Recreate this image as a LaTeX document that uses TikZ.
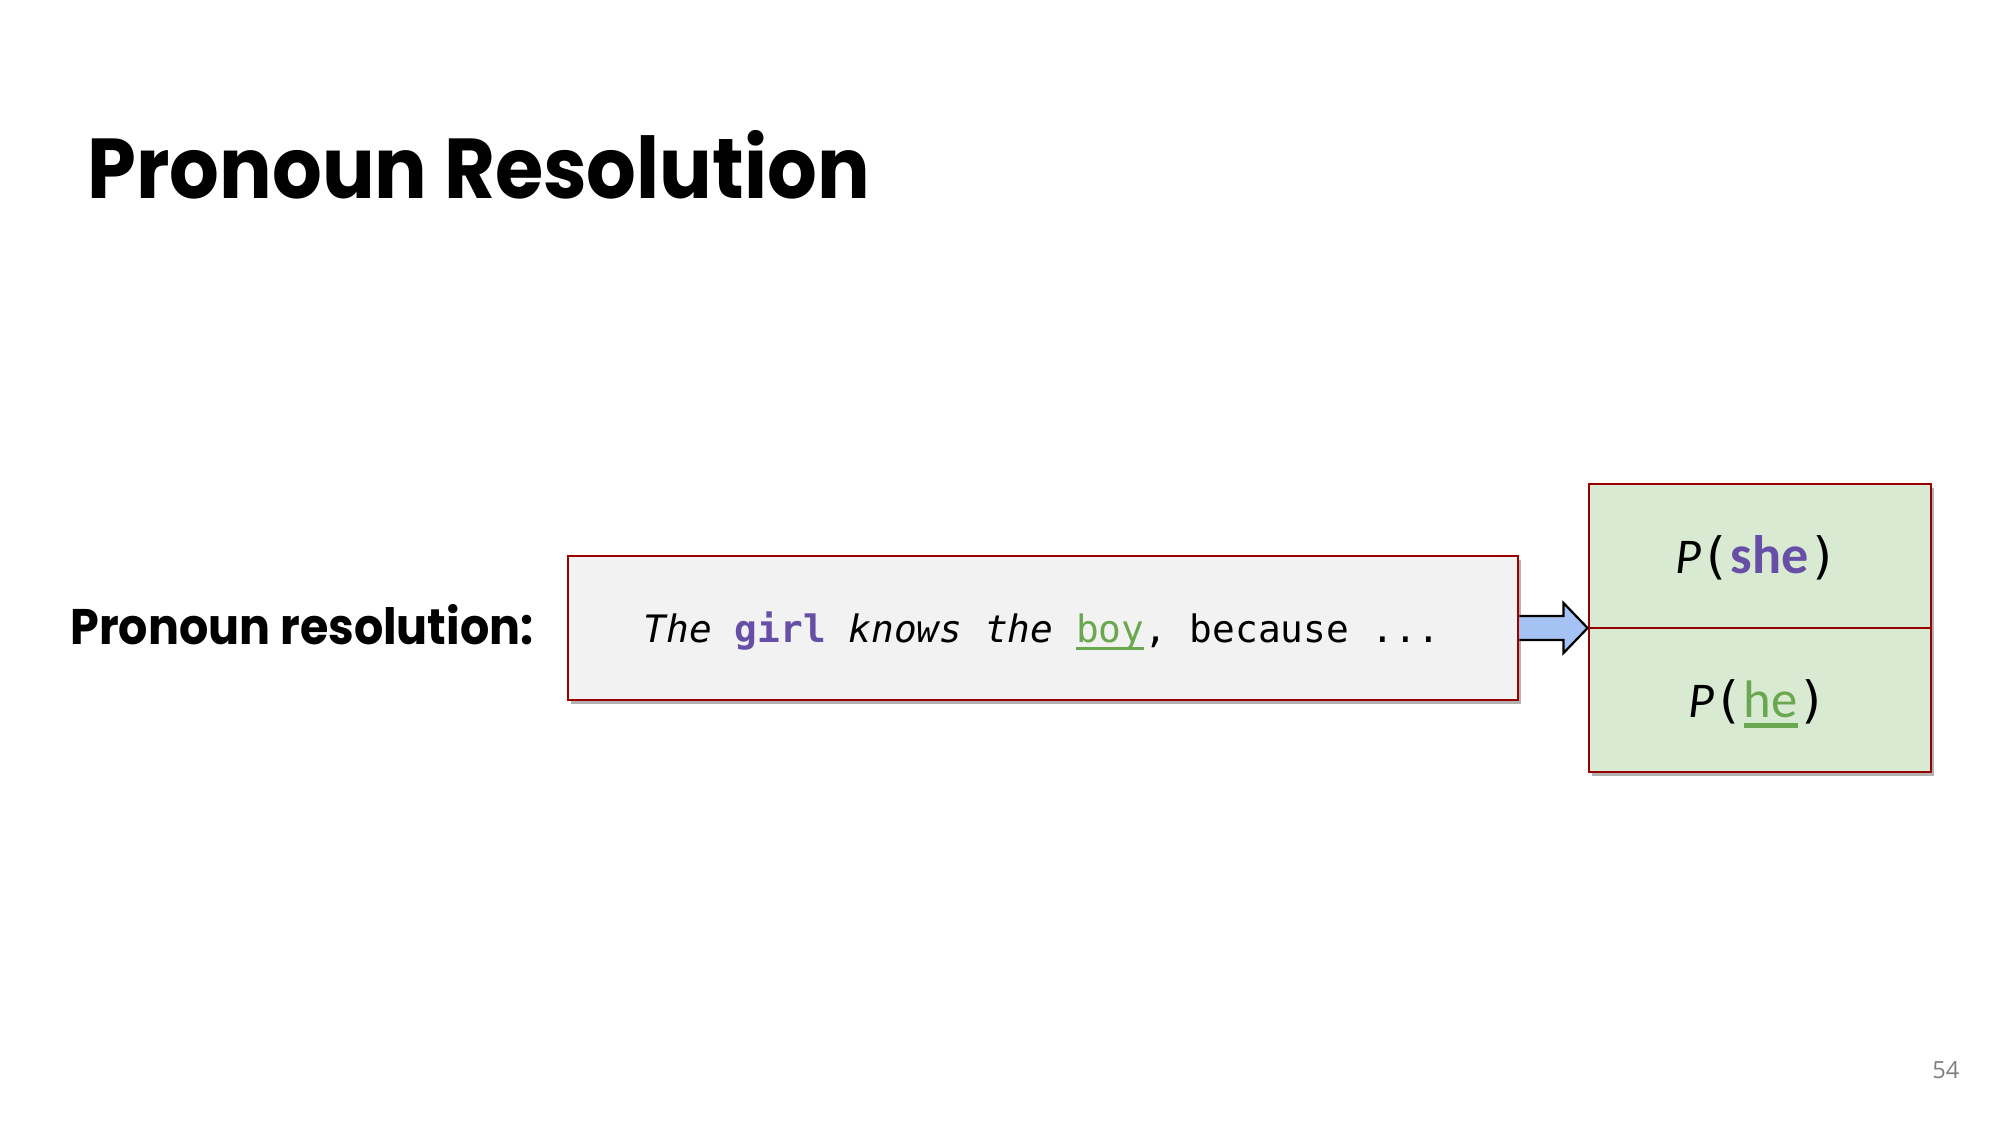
\documentclass[tikz,border=0pt]{standalone}
\usepackage{fontspec}
\usetikzlibrary{shadows,calc}
\newfontfamily\titlefont{Poppins}[FakeStretch=0.92]
\newfontfamily\codefont{DejaVu Sans Mono}
\newfontfamily\calfont{Carlito}
\newfontfamily\numfont{Open Sans}
\definecolor{boxred}{HTML}{990000}
\definecolor{boxgray}{HTML}{F2F2F2}
\definecolor{boxgreen}{HTML}{D9EAD3}
\definecolor{wpurple}{HTML}{674EA7}
\definecolor{wgreen}{HTML}{6AA84F}
\definecolor{arrowblue}{HTML}{A4C2F4}
\definecolor{pagegray}{HTML}{7F7F7F}
\newcommand\myul[1]{\setbox0\hbox{#1}\rlap{\rule[-0.2em]{\wd0}{0.08em}}\box0}
\tikzset{
  redbox/.style={draw=boxred, line width=1.05pt, inner sep=0pt,
    drop shadow={shadow xshift=1.1pt, shadow yshift=-1.5pt, opacity=0.3, fill=black}},
  blockarrow/.style={draw=black, line width=0.8pt, fill=arrowblue, line join=miter},
}
\begin{document}
\begin{tikzpicture}[x=0.36pt, y=-0.36pt]
\useasboundingbox (0,0) rectangle (2000,1125);
% title
\node[anchor=base west, inner sep=0pt] (title) at (87,198) {\titlefont\fontsize{30.6}{36}\selectfont\bfseries Pronoun Resolution};
% label
\node[anchor=base west, inner sep=0pt] (label) at (70,644) {\titlefont\fontsize{18}{22}\selectfont\bfseries Pronoun resolution:};
% main box
\node[redbox, fill=boxgray, minimum width=950*0.36pt, minimum height=144*0.36pt] (main) at (1043,628) {};
\node[anchor=base, inner sep=0pt] (sent) at (1042,642) {\codefont\fontsize{13.6}{16}\selectfont
  \textit{The} \textcolor{wpurple}{\bfseries girl} \textit{knows the} {\color{wgreen}\myul{boy}}, because ...};
% probability box
\node[redbox, fill=boxgreen, minimum width=342*0.36pt, minimum height=288*0.36pt] (prob) at (1760,628) {};
\draw[boxred, line width=1.05pt] (prob.west) -- (prob.east);
\node[anchor=base, inner sep=0pt] (pshe) at (1757,573) {\fontsize{18}{22}\selectfont{\calfont\itshape P}{\codefont(}{\calfont\fontsize{19.5}{22}\selectfont\bfseries\color{wpurple}she}{\codefont)}};
\node[anchor=base, inner sep=0pt] (phe) at (1758,717) {\fontsize{18}{22}\selectfont{\calfont\itshape P}{\codefont(}{\calfont\fontsize{19}{22}\selectfont\color{wgreen}\myul{he}}{\codefont)}};
% arrow
\draw[blockarrow] ($(main.east)+(0,-12)$) -- ($(prob.west)+(-24,-12)$) -- ($(prob.west)+(-24,-25)$) -- (prob.west)
  -- ($(prob.west)+(-24,25)$) -- ($(prob.west)+(-24,12)$) -- ($(main.east)+(0,12)$);
% page number
\node[anchor=base east, inner sep=0pt, text=pagegray] (page) at (1960,1078) {\numfont\fontsize{8.5}{10}\selectfont 54};
\end{tikzpicture}
\end{document}
